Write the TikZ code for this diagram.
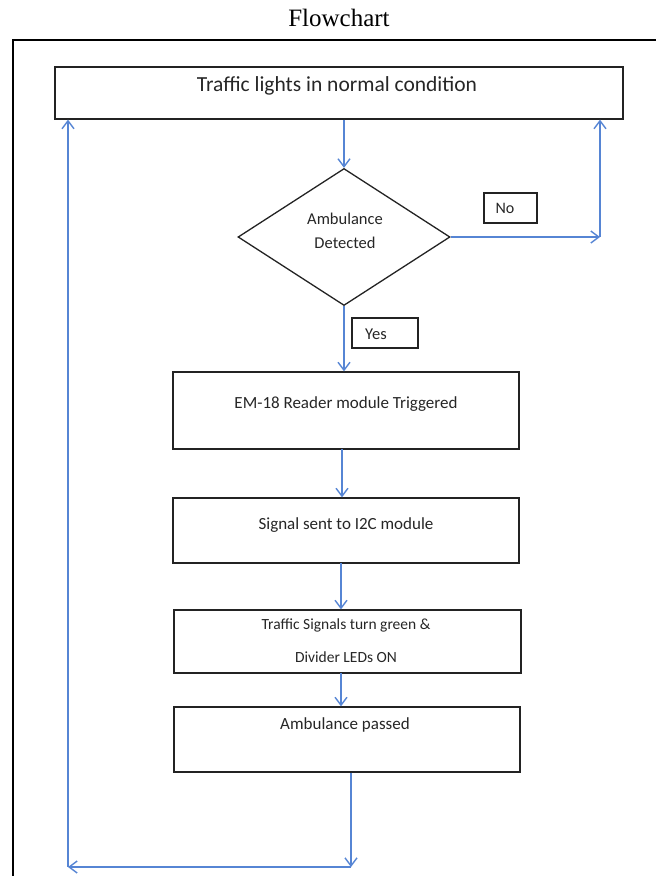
\documentclass[tikz,border=0pt]{standalone}
\usepackage{fontspec}
\setmainfont{Carlito}
\newfontfamily\titlefont{Liberation Serif}
\usetikzlibrary{shapes.geometric,arrows.meta}
\definecolor{arrblue}{RGB}{86,133,212}
\definecolor{boxline}{RGB}{35,35,35}
\tikzset{
  boxnode/.style={draw=boxline, line width=1.3pt, rectangle, inner sep=0pt},
  dianode/.style={draw=boxline, line width=1.3pt, diamond, inner sep=0pt},
  txt/.style={inner sep=0pt, text=black!85},
  arr/.style={draw=arrblue, line width=1.4pt, -{Straight Barb[length=8pt,width=12pt,line width=1.4pt]}},
  ln/.style={draw=arrblue, line width=1.4pt},
}
\begin{document}
\begin{tikzpicture}[x=1pt,y=-1pt]
\useasboundingbox (0,0) rectangle (656,876);
% title
\node[inner sep=0pt, font=\titlefont\fontsize{25}{28}\selectfont] (title) at (339,18) {Flowchart};
% outer frame
\draw[line width=2pt, black] (13,876) -- (13,40) -- (656,40);
% boxes
\node[boxnode, minimum width=568pt, minimum height=52pt] (top) at (339,93) {};
\node[txt, font=\fontsize{21.5}{24}\selectfont] (toptxt) at (337,86) {Traffic lights in normal condition};

\node[dianode, minimum width=212pt, minimum height=137pt] (dia) at (344,237) {};
\node[txt, font=\fontsize{16.5}{20}\selectfont, align=center] (diatxt1) at (345,219) {Ambulance};
\node[txt, font=\fontsize{16.5}{20}\selectfont, align=center] (diatxt2) at (345,243) {Detected};

\node[boxnode, minimum width=53pt, minimum height=30pt] (no) at (510.5,208) {};
\node[txt, font=\fontsize{16}{20}\selectfont] (notxt) at (505,208) {No};

\node[boxnode, minimum width=66pt, minimum height=30pt] (yes) at (385,333) {};
\node[txt, font=\fontsize{16.5}{20}\selectfont] (yestxt) at (376,334) {Yes};

\node[boxnode, minimum width=346pt, minimum height=77pt] (em) at (346,410.5) {};
\node[txt, font=\fontsize{17}{20}\selectfont] (emtxt) at (346,404) {EM-18 Reader module Triggered};

\node[boxnode, minimum width=346pt, minimum height=65pt] (sig) at (346,530.5) {};
\node[txt, font=\fontsize{17}{20}\selectfont] (sigtxt) at (346,525) {Signal sent to I2C module};

\node[boxnode, minimum width=347pt, minimum height=63pt] (ts) at (347.5,641.5) {};
\node[txt, font=\fontsize{15.5}{18}\selectfont] (tstxt1) at (346,625) {Traffic Signals turn green \&};
\node[txt, font=\fontsize{15.5}{18}\selectfont] (tstxt2) at (346,657) {Divider LEDs ON};

\node[boxnode, minimum width=346pt, minimum height=65pt] (ap) at (347,739.5) {};
\node[txt, font=\fontsize{17}{20}\selectfont] (aptxt) at (345,725) {Ambulance passed};

% coordinates for loops
\coordinate (nocorner) at (600,237);
\coordinate (botmid) at (351,867);
\coordinate (botleft) at (68,867);

% connectors
\draw[arr] (top.south -| dia.north) -- (dia.north);
\draw[arr] (dia.east) -- (nocorner);
\draw[arr] (nocorner) -- (nocorner |- top.south);
\draw[arr] (dia.south) -- (dia.south |- em.north);
\draw[arr] (342,449) coordinate (a1) -- (a1 |- sig.north);
\draw[arr] (341,563) coordinate (a2) -- (a2 |- ts.north);
\draw[arr] (341,673) coordinate (a3) -- (a3 |- ap.north);
\draw[arr] (ap.south -| botmid) -- (botmid);
\draw[arr] (botmid) -- (botleft);
\draw[arr] (botleft) -- (botleft |- top.south);
\end{tikzpicture}
\end{document}
